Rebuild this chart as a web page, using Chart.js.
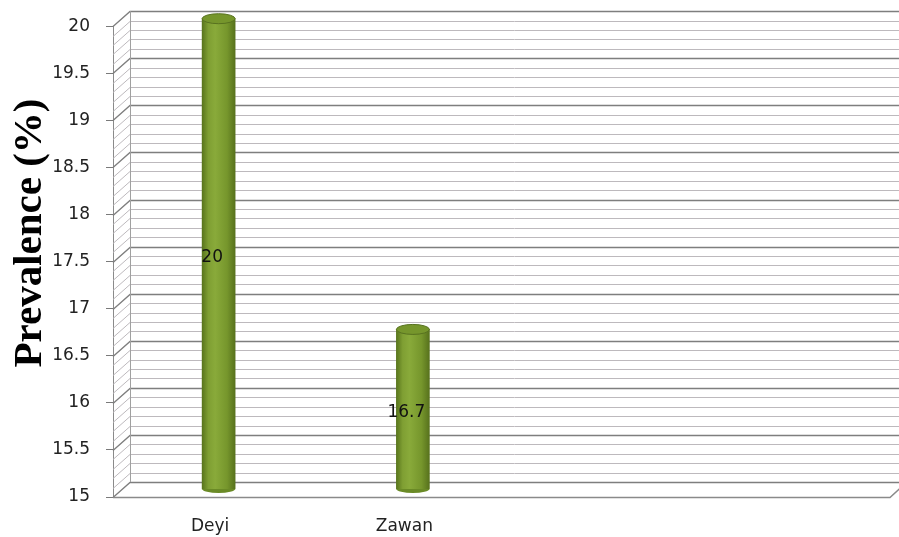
<!DOCTYPE html>
<html lang="en">
<head>
    <meta charset="UTF-8">
    <title>Prevalence</title>
    <script src="https://cdn.jsdelivr.net/npm/chart.js"></script>
    <style>
        body {
            margin: 0;
            background-color: #ffffff;
        }
        #wrap {
            width: 899px;
            height: 537px;
        }
    </style>
</head>
<body>

    <div id="wrap">
        <canvas id="prevChart" width="899" height="537"></canvas>
    </div>

    <script>
        const categories = ['Deyi', 'Zawan', '', ''];
        const prevalence = [20, 16.7, null, null];
        const yMin = 15;
        const yMax = 20;
        const yTitle = 'Prevalence (%)';

        // depth offset of the back wall (fake 3D look)
        const DX = 17, DY = 15;

        function isMajor(v) {
            return Math.abs(v * 2 - Math.round(v * 2)) < 1e-6;
        }

        const wallPlugin = {
            id: 'wall3d',
            beforeDatasetsDraw(chart) {
                const ctx = chart.ctx;
                const y = chart.scales.y;
                const area = chart.chartArea;
                ctx.save();
                y.ticks.forEach(t => {
                    const py = Math.round(y.getPixelForValue(t.value)) + 0.5;
                    ctx.beginPath();
                    ctx.strokeStyle = isMajor(t.value) ? '#7e7e7e' : '#bdb9bd';
                    ctx.lineWidth = isMajor(t.value) ? 1.3 : 1;
                    ctx.moveTo(area.left, py);
                    ctx.lineTo(area.left + DX, py - DY);
                    ctx.lineTo(chart.width, py - DY);
                    ctx.stroke();
                });
                // back wall left edge
                ctx.beginPath();
                ctx.strokeStyle = '#a0a0a0';
                ctx.lineWidth = 1;
                ctx.moveTo(area.left + DX + 0.5, area.top - DY);
                ctx.lineTo(area.left + DX + 0.5, area.bottom - DY);
                ctx.stroke();
                // floor front edge
                ctx.beginPath();
                ctx.strokeStyle = '#8a8a8a';
                ctx.lineWidth = 1.5;
                ctx.moveTo(area.left, area.bottom + 0.5);
                ctx.lineTo(area.right, area.bottom + 0.5);
                ctx.lineTo(area.right + DX, area.bottom - DY);
                ctx.stroke();
                ctx.restore();

                // bars sit in the middle of the depth
                ctx.save();
                ctx.translate(DX / 2, -DY / 2);
            },
            afterDatasetsDraw(chart) {
                const ctx = chart.ctx;
                const meta = chart.getDatasetMeta(0);
                meta.data.forEach((bar, i) => {
                    if (prevalence[i] == null) return;
                    const w = bar.width;
                    // rounded bottom
                    ctx.beginPath();
                    ctx.fillStyle = '#6a8a26';
                    ctx.ellipse(bar.x, bar.base, w / 2, 4, 0, 0, Math.PI);
                    ctx.fill();
                    // top cap
                    ctx.beginPath();
                    ctx.fillStyle = '#76962c';
                    ctx.strokeStyle = '#587220';
                    ctx.lineWidth = 1;
                    ctx.ellipse(bar.x, bar.y, w / 2, 5, 0, 0, Math.PI * 2);
                    ctx.fill();
                    ctx.stroke();
                });
                ctx.restore();

                // value labels
                ctx.save();
                ctx.fillStyle = '#111111';
                ctx.font = '17px "DejaVu Sans"';
                ctx.textAlign = 'center';
                ctx.textBaseline = 'middle';
                meta.data.forEach((bar, i) => {
                    if (prevalence[i] == null) return;
                    ctx.fillText(String(prevalence[i]), bar.x + 2, (bar.y + bar.base) / 2 - 4);
                });
                ctx.restore();
            },
            afterDraw(chart) {
                // axis title, placed as in the original (above centre)
                const ctx = chart.ctx;
                ctx.save();
                ctx.translate(30, 233);
                ctx.rotate(-Math.PI / 2);
                ctx.fillStyle = '#000000';
                ctx.font = 'bold 41px "Liberation Serif"';
                ctx.textAlign = 'center';
                ctx.textBaseline = 'middle';
                ctx.fillText(yTitle, 0, 0);
                ctx.restore();
            }
        };

        function cylinderFill(c) {
            const chart = c.chart;
            const x = chart.scales.x ? chart.scales.x.getPixelForValue(c.dataIndex) : NaN;
            if (!isFinite(x)) return '#7a9a2e';
            const half = 17;
            const g = chart.ctx.createLinearGradient(x - half, 0, x + half, 0);
            g.addColorStop(0, '#56721b');
            g.addColorStop(0.2, '#7f9f33');
            g.addColorStop(0.4, '#89aa3a');
            g.addColorStop(0.75, '#76962c');
            g.addColorStop(1, '#56701c');
            return g;
        }

        const ctx = document.getElementById('prevChart').getContext('2d');

        const chart = new Chart(ctx, {
            type: 'bar',
            data: {
                labels: categories,
                datasets: [{
                    label: yTitle,
                    data: prevalence,
                    base: yMin,
                    backgroundColor: cylinderFill,
                    borderWidth: 0,
                    barThickness: 33,
                    clip: false
                }]
            },
            options: {
                responsive: false,
                animation: false,
                layout: {
                    padding: { top: 26, right: 9, left: 0, bottom: 0 }
                },
                plugins: {
                    legend: { display: false },
                    tooltip: { enabled: false }
                },
                scales: {
                    x: {
                        afterFit(scale) { scale.height = 40; },
                        grid: { display: false },
                        border: { display: false },
                        ticks: {
                            padding: 11,
                            color: '#222222',
                            font: { family: 'DejaVu Sans', size: 17 }
                        }
                    },
                    y: {
                        min: yMin,
                        max: yMax,
                        afterFit(scale) { scale.width = 113; },
                        grid: {
                            drawOnChartArea: false,
                            tickLength: 7,
                            color: c => isMajor(c.tick.value) ? '#7a7a7a' : 'rgba(0,0,0,0)'
                        },
                        border: { display: true, color: '#8a8a8a' },
                        ticks: {
                            stepSize: 0.1,
                            autoSkip: false,
                            padding: 16,
                            color: '#222222',
                            font: { family: 'DejaVu Sans', size: 17 },
                            callback: v => isMajor(v) ? String(Number(v.toFixed(1))) : ''
                        }
                    }
                }
            },
            plugins: [wallPlugin]
        });
    </script>

</body>
</html>
